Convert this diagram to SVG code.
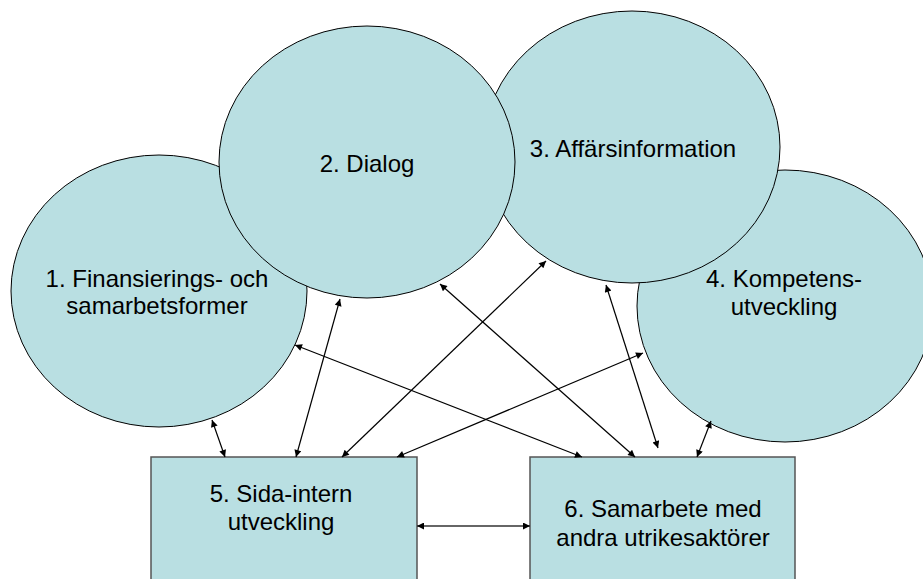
<svg xmlns="http://www.w3.org/2000/svg" width="923" height="579" viewBox="0 0 923 579">
<defs>
<marker id="ah" viewBox="0 0 10 10" refX="10" refY="5" markerWidth="9" markerHeight="7" markerUnits="userSpaceOnUse" orient="auto-start-reverse">
<path d="M0,0 L10,5 L0,10 z" fill="#000"/>
</marker>
<style>
.c{fill:#B9DFE2;stroke:#000;stroke-width:1}
.r{fill:#B9DFE2;stroke:#555;stroke-width:1.5}
.t{font-family:"Liberation Sans",Arial,sans-serif;font-size:24px;fill:#000;text-anchor:middle}
.l{stroke:#000;stroke-width:1.2;fill:none;marker-start:url(#ah);marker-end:url(#ah)}
</style>
</defs>
<rect width="923" height="579" fill="#fff"/>
<g id="node1"><ellipse class="c" cx="159" cy="291" rx="148" ry="136"/><text class="t" x="157" y="287">1. Finansierings- och</text><text class="t" x="157" y="314">samarbetsformer</text></g>
<g id="node4"><ellipse class="c" cx="785" cy="306" rx="148" ry="136"/><text class="t" x="784" y="287">4. Kompetens-</text><text class="t" x="784" y="315">utveckling</text></g>
<g id="node3"><ellipse class="c" cx="632" cy="147" rx="148" ry="136"/><text class="t" x="633" y="157">3. Affärsinformation</text></g>
<g id="node2"><ellipse class="c" cx="367" cy="162" rx="148" ry="136"/><text class="t" x="367" y="172">2. Dialog</text></g>
<g id="node5"><rect class="r" x="151" y="457" width="266" height="135"/><text class="t" x="281" y="502">5. Sida-intern</text><text class="t" x="281" y="530">utveckling</text></g>
<g id="node6"><rect class="r" x="530" y="457" width="265" height="135"/><text class="t" x="663" y="517">6. Samarbete med</text><text class="t" x="663" y="546">andra utrikesaktörer</text></g>
<g id="connectors">
<line class="l" x1="212" y1="420" x2="225" y2="457"/>
<line class="l" x1="340" y1="299" x2="296" y2="457"/>
<line class="l" x1="546" y1="261" x2="342" y2="457"/>
<line class="l" x1="643" y1="353" x2="397" y2="457"/>
<line class="l" x1="295" y1="345" x2="582" y2="457"/>
<line class="l" x1="440" y1="284" x2="635" y2="457"/>
<line class="l" x1="606" y1="285" x2="658" y2="448"/>
<line class="l" x1="711" y1="421" x2="697" y2="457"/>
<line class="l" x1="417" y1="526" x2="530" y2="526" style="stroke:#333;stroke-width:1.6"/>
</g>
</svg>
